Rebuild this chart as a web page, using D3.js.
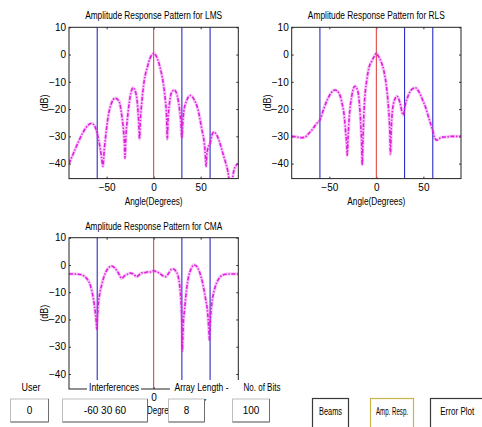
<!DOCTYPE html>
<html><head><meta charset="utf-8">
<script src="https://cdn.jsdelivr.net/npm/d3@7/dist/d3.min.js"></script>
<style>
html,body{margin:0;padding:0;background:#fff;}
svg text{font-family:"Liberation Sans",Arial,sans-serif;fill:#000;}
</style></head><body>
<svg id="c" width="482" height="427"></svg>
<script>
// ---- data ----
const lmsAngles = [-90,-85,-80,-75,-70,-66,-63,-60,-57,-55.5,-54,-52.5,-51,-48,-45,-41,-37,-34,-32,-31,-30.5,-29.5,-28,-25,-22,-19,-17,-16,-15,-14,-13,-10,-7,-4,0,4,7,10,12.5,13.8,14.5,15.3,16.5,19,22,25,27.5,29,30,31,32,35,39,43,47,51,54,55,55.7,56.5,58,60,62,64,67,70,73,76,79,81,83,85,87,90];
const lmsDb     = [-40,-36,-32,-28.5,-26,-25.2,-26,-29,-34,-37.5,-41,-35,-30,-22,-18,-16,-17,-22,-28,-33,-38,-30,-24,-15.5,-12.2,-14,-19,-24,-31,-23,-19,-9.5,-5,-1.5,0.4,-1.5,-5,-10,-17,-23,-31,-24,-19,-14,-13,-15,-20,-25,-30.5,-25,-21,-17,-15,-16.5,-20,-27,-33,-37,-41,-37,-34,-32.7,-29.5,-28.4,-29.5,-32,-35.5,-39,-43,-47,-47,-43,-41,-40];

const rlsAngles = [-90,-85,-80,-76,-72,-68,-64,-60,-56,-52,-48,-44,-40,-37,-34,-32.5,-31.5,-31,-30,-29,-26,-23,-20,-18,-16.5,-15.6,-15,-14.2,-13,-10,-8,-5,-2,0,2,5,8,10.5,13,14.3,15,15.8,17,19.5,22,25,28.5,31,34,37,41.5,45,49,52,56,60,62,64.2,67,70,75,80,85,90];
const rlsDb     = [-30,-30.2,-30.5,-30.3,-29,-27.5,-25.5,-24,-20,-16.5,-14,-13,-14,-17,-23,-29,-33,-37,-30,-24,-15,-11.6,-13,-18,-26,-33,-40.5,-31,-20,-9,-5,-2.5,-0.5,0.4,-0.5,-2.5,-6,-11,-20,-28,-36.5,-28,-21,-16.5,-15.3,-17.5,-22.2,-18,-15,-13,-12.2,-13.5,-16.5,-19,-23.5,-28,-30.5,-31.4,-30.8,-30.3,-30.2,-30,-30,-30];

const cmaAngles = [-90,-85,-80,-76,-73,-70,-67.5,-64,-62,-61,-60.5,-60,-59,-57,-55,-52,-49,-45,-41,-37.5,-34,-31,-28.5,-25,-22,-18,-15,-12.5,-9,-6,-3,0,3,6.5,10,13,16,19,21,23.5,25.5,27.5,29,30,30.5,31,31.5,33,35,37,40,43,46,49,52,55,57.5,58.7,59.2,59.8,61,63,65.5,68,71,75,80,85,90];
const cmaDb     = [-3.3,-3.3,-3.4,-3.7,-4.3,-5.5,-7.3,-12.5,-17.5,-21,-23.5,-21,-15,-10,-7,-3.5,-1.5,-0.4,-1.2,-3,-4.9,-4,-3.5,-3,-3.2,-4.3,-3.5,-2.9,-2.8,-2.5,-2.6,-2.1,-2.5,-3.1,-4,-4.3,-3,-1.6,-1.5,-2.2,-3.5,-7,-13,-22,-31.5,-27,-22,-16,-9,-4.5,-1.3,0,-0.6,-2.8,-6.5,-12,-18,-24,-27.5,-23,-17,-11.5,-8,-5.8,-4.3,-3.5,-3.3,-3.3,-3.3];

const userAngles = [0];
const interfAngles = [-60, 30, 60];
const xTicks = [-50, 0, 50];
const yTicks = [10, 0, -10, -20, -30, -40];
const titles = ["Amplitude Response Pattern for LMS","Amplitude Response Pattern for RLS","Amplitude Response Pattern for CMA"];

// ---- layout ----
const svg = d3.select("#c");
const panels = [
  {ang:lmsAngles, db:lmsDb, title:titles[0], l:69,   r:238.3, t:27.3,  xl:true},
  {ang:rlsAngles, db:rlsDb, title:titles[1], l:291.7,r:461,   t:27.3,  xl:true},
  {ang:cmaAngles, db:cmaDb, title:titles[2], l:69,   r:238.3, t:237.7, xl:false}
];
const H = 151.3;
const MAG = "#e01ee0", BLUE = "#2c2cc8", RED = "#e04848";

panels.forEach((p,i)=>{
  const b = p.t + H;
  const x = d3.scaleLinear().domain([-90,90]).range([p.l,p.r]);
  const y = d3.scaleLinear().domain([-45.5,10]).range([b,p.t]);
  const g = svg.append("g");
  const cid = "clip"+i;
  svg.append("clipPath").attr("id",cid).append("rect")
    .attr("x",p.l).attr("y",p.t).attr("width",p.r-p.l).attr("height",H);

  // axes (ticks inside, on all sides)
  const ax = d3.axisBottom(x).tickValues(xTicks).tickSize(-2).tickPadding(5).tickFormat(d3.format("d"));
  const ay = d3.axisLeft(y).tickValues(yTicks).tickSize(-2).tickPadding(3).tickFormat(d3.format("d"));
  const ax2 = d3.axisTop(x).tickValues(xTicks).tickSize(-2).tickFormat("");
  const ay2 = d3.axisRight(y).tickValues(yTicks).tickSize(-2).tickFormat("");
  const gx = g.append("g").attr("transform",`translate(0,${b})`).call(ax);
  const gy = g.append("g").attr("transform",`translate(${p.l},0)`).call(ay);
  g.append("g").attr("transform",`translate(0,${p.t})`).call(ax2);
  g.append("g").attr("transform",`translate(${p.r},0)`).call(ay2);
  g.selectAll(".domain").remove();
  g.selectAll(".tick line").attr("stroke","#333");
  g.selectAll(".tick text").style("font-size","10px").attr("fill","#111");
  gx.selectAll(".tick text").attr("dy","0.72em");

  // reference lines
  g.append("g").selectAll("line").data(interfAngles).join("line")
    .attr("x1",d=>x(d)).attr("x2",d=>x(d)).attr("y1",p.t).attr("y2",b)
    .attr("stroke",BLUE).attr("stroke-width",1.1);
  g.append("g").selectAll("line").data(userAngles).join("line")
    .attr("x1",d=>x(d)).attr("x2",d=>x(d)).attr("y1",p.t).attr("y2",b)
    .attr("stroke",RED).attr("stroke-width",1.1);

  // curve
  const pts = p.ang.map((a,k)=>[a,p.db[k]]);
  const line = d3.line().x(d=>x(d[0])).y(d=>y(d[1])).curve(d3.curveMonotoneX);
  g.append("path").attr("d",line(pts)).attr("clip-path",`url(#${cid})`)
    .attr("fill","none").attr("stroke",MAG).attr("stroke-opacity",0.25).attr("stroke-width",3.2);
  g.append("path").attr("d",line(pts)).attr("clip-path",`url(#${cid})`)
    .attr("fill","none").attr("stroke",MAG).attr("stroke-width",1.6)
    .attr("stroke-dasharray","4,1.6,1.4,1.6");

  // box
  g.append("rect").attr("x",p.l).attr("y",p.t).attr("width",p.r-p.l).attr("height",H)
    .attr("fill","none").attr("stroke","#222").attr("stroke-width",1);

  // title
  g.append("text").attr("x",(p.l+p.r)/2).attr("y",p.t-8).attr("text-anchor","middle")
    .style("font-size","10px").attr("textLength",137).attr("lengthAdjust","spacingAndGlyphs").text(p.title);
  // y label
  g.append("text").attr("transform",`translate(${p.l-21},${p.t+H*0.5}) rotate(-90)`)
    .attr("text-anchor","middle").style("font-size","10px").attr("textLength",17)
    .attr("lengthAdjust","spacingAndGlyphs").text("(dB)");
  if(p.xl){
    g.append("text").attr("x",(p.l+p.r)/2).attr("y",b+26).attr("text-anchor","middle")
      .style("font-size","10px").attr("textLength",58).attr("lengthAdjust","spacingAndGlyphs").text("Angle(Degrees)");
  }
});

// ---- UI controls overlay ----
const ui = svg.append("g");
function label(txt, x0, x1, tl){
  ui.append("rect").attr("x",x0).attr("y",380).attr("width",x1-x0).attr("height",19).attr("fill","#fff");
  ui.append("text").attr("x",(x0+x1)/2).attr("y",391).attr("text-anchor","middle")
    .style("font-size","10px").attr("textLength",tl).attr("lengthAdjust","spacingAndGlyphs").text(txt);
}
// "Degrees" static text partially hidden
ui.append("text").attr("x",147).attr("y",414).style("font-size","10px")
  .attr("textLength",30).attr("lengthAdjust","spacingAndGlyphs").text("Degrees");

label("User", 14, 48, 19);
label("Interferences", 87, 141, 50);
label("Array Length -", 170, 233, 54);
label("No. of Bits", 232, 292, 37);

function edit(txt, x0, x1){
  ui.append("rect").attr("x",x0).attr("y",399).attr("width",x1-x0).attr("height",23).attr("fill","#fff")
    .attr("stroke","#bdbdbd");
  ui.append("path").attr("d",`M${x1},399V422H${x0}`).attr("fill","none").attr("stroke","#6e6e6e");
  ui.append("text").attr("x",(x0+x1)/2).attr("y",414).attr("text-anchor","middle")
    .style("font-size","10px").text(txt);
}
edit("0", 10.5, 48.5);
edit("-60 30 60", 62.5, 147.5);
edit("8", 168.5, 204.5);
edit("100", 232.5, 269.5);

function button(txt, x0, x1, col, tl){
  ui.append("rect").attr("x",x0).attr("y",398.5).attr("width",x1-x0).attr("height",30).attr("fill","#fff")
    .attr("stroke",col).attr("stroke-width",1.2);
  ui.append("text").attr("x",(x0+x1)/2).attr("y",415).attr("text-anchor","middle")
    .style("font-size","10px").attr("textLength",tl).attr("lengthAdjust","spacingAndGlyphs").text(txt);
}
button("Beams", 312.5, 348.5, "#3a3a3a", 23);
button("Amp. Resp.", 370.5, 413.5, "#c8b448", 32);
button("Error Plot", 430.5, 484, "#3a3a3a", 34);
</script>
</body></html>
